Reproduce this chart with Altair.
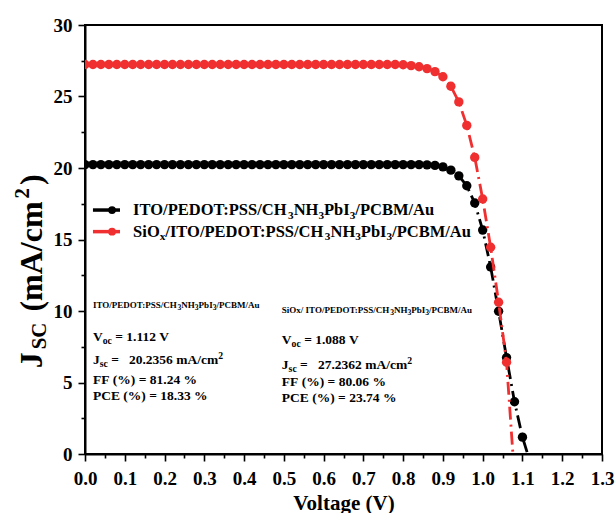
import altair as alt
import pandas as pd

# ---------------------------------------------------------------- data
# Applied voltage (V), 0.02 V steps
voltage = [0.00, 0.02, 0.04, 0.06, 0.08, 0.10, 0.12, 0.14, 0.16, 0.18,
           0.20, 0.22, 0.24, 0.26, 0.28, 0.30, 0.32, 0.34, 0.36, 0.38,
           0.40, 0.42, 0.44, 0.46, 0.48, 0.50, 0.52, 0.54, 0.56, 0.58,
           0.60, 0.62, 0.64, 0.66, 0.68, 0.70, 0.72, 0.74, 0.76, 0.78,
           0.80, 0.82, 0.84, 0.86, 0.88, 0.90, 0.92, 0.94, 0.96, 0.98,
           1.00, 1.02, 1.04, 1.06, 1.08, 1.10]

# ITO/PEDOT:PSS/CH3NH3PbI3/PCBM/Au  (mA/cm2)
j_ito = [20.24] * 43 + [20.22, 20.18, 20.08, 19.85, 19.45, 18.76, 17.55,
                        15.66, 13.08, 9.98, 6.74, 3.65, 1.18]
# SiOx/ITO/PEDOT:PSS/CH3NH3PbI3/PCBM/Au  (mA/cm2)
j_siox = [27.24] * 40 + [27.22, 27.16, 27.08, 26.95, 26.74, 26.38, 25.72,
                         24.62, 22.98, 20.74, 17.83, 14.46, 10.61, 6.42]

# open-circuit end of each fitted curve (V)
voc_line_ito = 1.113
voc_line_siox = 1.076

series_colors = ["#000000", "#ff0000"]
line_colors = ["#000000", "#f03030"]
glint_colors = ["#d8d8d8", "#ffd0d0"]

x_ticks = [0.0, 0.1, 0.2, 0.3, 0.4, 0.5, 0.6, 0.7, 0.8, 0.9, 1.0, 1.1, 1.2, 1.3]
x_minor = [0.05, 0.15, 0.25, 0.35, 0.45, 0.55, 0.65, 0.75, 0.85, 0.95, 1.05, 1.15, 1.25]
y_ticks = [0, 5, 10, 15, 20, 25, 30]
y_minor = [2.5, 7.5, 12.5, 17.5, 22.5, 27.5]

# ---------------------------------------------------------------- layout
FONT = "Liberation Serif"
NB = "\u00a0"           # keeps runs of blanks from collapsing in SVG text
W, H = 517, 429
XMAX, YMAX = 1.3, 30.0
PXV = W / XMAX          # pixels per volt
PXJ = H / YMAX          # pixels per mA/cm2

# Times-bold advance widths (em) for laying out rich text runs
EM = {" ": .25, NB: .25, "(": .333, ")": .333, "%": 1.0, ".": .25, "/": .278,
      ":": .333, "=": .570, "A": .722, "B": .667, "C": .722, "D": .722,
      "E": .667, "F": .611, "H": .778, "I": .389, "J": .5, "M": .944,
      "N": .722, "O": .778, "P": .611, "S": .556, "T": .667, "V": .722,
      "a": .5, "b": .556, "c": .444, "e": .444, "g": .5, "i": .278,
      "l": .278, "m": .833, "o": .5, "s": .389, "t": .333, "u": .556, "x": .5}


def text_width(s, size):
    return sum(EM.get(ch, 0.5) for ch in s) * size


def rich(parts, v0, j0, size, rotated=False, small=0.68, sub=0.22, sup=0.40, gap=0.0):
    """Split a line into runs; 'b' base, 'sub' subscript, 'sup' superscript.
    Leading/trailing blanks become offsets, since text values are trimmed."""
    rows, off = [], 0.0
    for txt, kind in parts:
        fs = size if kind == "b" else size * small
        shift = {"b": 0.0, "sub": size * sub, "sup": -size * sup}[kind]
        body = txt.strip(" ")
        lead = len(txt) - len(txt.lstrip(" "))
        trail = len(txt) - len(txt.rstrip(" "))
        off += lead * EM[" "] * fs
        shown = body.replace(" ", NB)
        if rotated:
            rows.append({"V": v0 + shift / PXV, "J": j0 + off / PXJ, "t": shown, "fs": fs})
        else:
            rows.append({"V": v0 + off / PXV, "J": j0 - shift / PXJ, "t": shown, "fs": fs})
        off += text_width(body, fs) + trail * EM[" "] * fs + gap
    return rows


def device(prefix):
    return [(prefix + "ITO/PEDOT:PSS/CH", "b"), ("3", "sub"), ("NH", "b"), ("3", "sub"),
            ("PbI", "b"), ("3", "sub"), ("/PCBM/Au", "b")]


def stats(voc, jsc, ff, pce):
    return [
        [("V", "b"), ("oc", "sub"), (" = " + voc + " V", "b")],
        [("J", "b"), ("sc", "sub"), (" =   " + jsc + " mA/cm", "b"), ("2", "sup")],
        [("FF (%) = " + ff + " %", "b")],
        [("PCE (%) = " + pce + " %", "b")],
    ]


# ---------------------------------------------------------------- frames
curves, lines = [], []
for k, (jv, end) in enumerate([(j_ito, voc_line_ito), (j_siox, voc_line_siox)]):
    for v, j in zip(voltage, jv):
        curves.append({"V": v, "J": j, "s": k})
        lines.append({"V": v, "J": j, "s": k})
    lines.append({"V": end, "J": 0.0, "s": k})
curves = pd.DataFrame(curves)
lines = pd.DataFrame(lines)

# legend rows
leg_line_v = (0.020, 0.088)
leg_mark_v = 0.068
leg_text_v = 0.121
leg_center_j = [17.06, 15.55]
leg_base_j = [16.71, 15.20]

legend_lines = pd.DataFrame([{"V": v, "J": leg_center_j[k], "s": k}
                             for k in range(2) for v in leg_line_v])
legend_marks = pd.DataFrame([{"V": leg_mark_v, "J": leg_center_j[k], "s": k} for k in range(2)])

texts = []
texts += rich(device(""), leg_text_v, leg_base_j[0], 16.5)
texts += rich([("SiO", "b"), ("x", "sub")] + device("/"), leg_text_v, leg_base_j[1], 16.5)

# device summaries
col_v = [0.020, 0.495]
head_j = [10.21, 9.86]
row_j = [[7.87, 6.26, 4.93, 3.81], [7.69, 5.94, 4.76, 3.67]]
summary = [("1.112", "20.2356", "81.24", "18.33"), ("1.088", "27.2362", "80.06", "23.74")]
heads = [device(""), [("SiOx/ ", "b")] + device("")]
for c in range(2):
    texts += rich(heads[c], col_v[c], head_j[c], 9.0, small=0.85)
    for line, jb in zip(stats(*summary[c]), row_j[c]):
        texts += rich(line, col_v[c], jb, 13.5, small=0.72)
texts = pd.DataFrame(texts)

ytitle = pd.DataFrame(rich([("J", "b"), ("SC", "sub"), (" (mA/cm", "b"), ("2", "sup"), (")", "b")],
                           -0.108, 6.0, 32, rotated=True, small=0.65, sub=0.12, sup=0.40,
                           gap=3))

minor = pd.DataFrame({"V": x_minor[:len(y_minor)], "J": y_minor})

# ---------------------------------------------------------------- chart
xs = alt.Scale(domain=[0, XMAX], nice=False, zero=False)
ys = alt.Scale(domain=[0, YMAX], nice=False, zero=False)
color_s = alt.Scale(domain=[0, 1], range=series_colors)
line_s = alt.Scale(domain=[0, 1], range=line_colors)
glint_s = alt.Scale(domain=[0, 1], range=glint_colors)

x_main = alt.X("V:Q", scale=xs, axis=alt.Axis(values=x_ticks, format=".1f", title="Voltage (V)",
                                               orient="bottom", labelPadding=8, titlePadding=4))
y_main = alt.Y("J:Q", scale=ys, axis=alt.Axis(values=y_ticks, format="d", title=None,
                                               orient="left", labelPadding=6))
x_plain = alt.X("V:Q", scale=xs, axis=None)
y_plain = alt.Y("J:Q", scale=ys, axis=None)

minor_ticks = alt.Chart(minor).mark_point(opacity=0).encode(
    x=alt.X("V:Q", scale=xs, axis=alt.Axis(values=x_minor, labels=False, domain=False,
                                           tickSize=4, title=None, orient="bottom")),
    y=alt.Y("J:Q", scale=ys, axis=alt.Axis(values=y_minor, labels=False, domain=False,
                                           tickSize=4, title=None, orient="left")),
)


def series_layers(k):
    d_line = lines[lines.s == k]
    d_pts = curves[curves.s == k]
    fit = alt.Chart(d_line).mark_line(strokeWidth=2.8, strokeDash=[13, 5, 2, 5], clip=True).encode(
        x=x_plain, y=y_plain, color=alt.Color("s:N", scale=line_s, legend=None))
    balls = alt.Chart(d_pts).mark_circle(size=88, opacity=1, clip=True).encode(
        x=x_plain, y=y_plain, color=alt.Color("s:N", scale=color_s, legend=None))
    glint = alt.Chart(d_pts).mark_circle(size=7, opacity=0.9, xOffset=-1, yOffset=-2, clip=True).encode(
        x=x_plain, y=y_plain, color=alt.Color("s:N", scale=glint_s, legend=None))
    return [fit, balls, glint]


axes_layer = alt.Chart(curves).mark_point(opacity=0).encode(x=x_main, y=y_main)

leg_l = alt.Chart(legend_lines).mark_line(strokeWidth=3.5).encode(
    x=x_plain, y=y_plain, detail="s:N", color=alt.Color("s:N", scale=color_s, legend=None))
leg_m = alt.Chart(legend_marks).mark_circle(size=60, opacity=1).encode(
    x=x_plain, y=y_plain, color=alt.Color("s:N", scale=color_s, legend=None))
leg_g = alt.Chart(legend_marks).mark_circle(size=5, opacity=0.9, xOffset=-1, yOffset=-1.5).encode(
    x=x_plain, y=y_plain, color=alt.Color("s:N", scale=glint_s, legend=None))

labels = alt.Chart(texts).mark_text(align="left", baseline="alphabetic", font=FONT,
                                    fontWeight="bold", color="black").encode(
    x=x_plain, y=y_plain, text="t:N", size=alt.Size("fs:Q", scale=None))
ylab = alt.Chart(ytitle).mark_text(align="left", baseline="alphabetic", font=FONT, angle=270,
                                   fontWeight="bold", color="black").encode(
    x=x_plain, y=y_plain, text="t:N", size=alt.Size("fs:Q", scale=None))

chart = alt.layer(
    minor_ticks, axes_layer, *series_layers(0), *series_layers(1),
    leg_l, leg_m, leg_g, labels, ylab,
).resolve_axis(x="independent", y="independent").properties(
    width=W, height=H,
    background="white",
    autosize=alt.AutoSizeParams(type="none"),
    padding={"left": 85, "top": 25, "right": 14, "bottom": 59},
).configure_view(stroke="black", strokeWidth=2).configure_axis(
    grid=False, domainColor="black", domainWidth=2, tickColor="black", tickWidth=1.6,
    tickSize=7, labelFont=FONT, labelFontWeight="bold", labelFontSize=19, labelColor="black",
    labelFlush=False, labelOverlap=False, titleFont=FONT, titleFontWeight="bold",
    titleFontSize=21, titleColor="black",
)

chart.save("out.html", embed_options={"renderer": "svg", "actions": False})
